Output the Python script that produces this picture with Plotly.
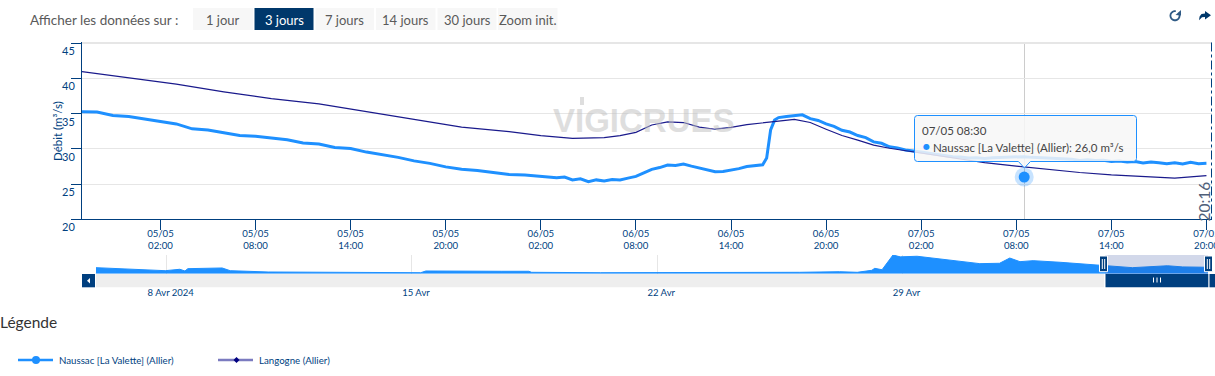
import math
import pandas as pd
import plotly.graph_objects as go

W, H = 1215, 376
FONT = "Lato"
NAVY = "#003f7f"
BLUE = "#1e90ff"
DARK = "#1a1a8c"

# ---- Data ----
naussac_name = "Naussac [La Valette] (Allier)"
langogne_name = "Langogne (Allier)"

naussac_hourly = [35.3, 35.25, 34.75, 34.6, 34.25, 33.9, 33.55, 32.85, 32.7, 32.3,
                  31.9, 31.8, 31.6, 31.3, 30.85, 30.7, 30.2, 30.05, 29.55, 29.2,
                  28.8, 28.3, 27.95, 27.45, 27.1, 26.95, 26.6, 26.35, 26.3, 26.15]
naussac_low = [26.05, 25.9, 26.0, 25.6, 25.75, 25.35, 25.6, 25.45, 25.65, 25.6,
               25.85, 26.1, 26.6, 27.1, 27.35, 27.7, 27.65, 27.85, 27.55, 27.3,
               27.0, 26.75, 26.8, 26.95, 27.2, 27.5, 27.6, 27.75]
naussac_rise_times = ["2024-05-06 16:15", "2024-05-06 16:30", "2024-05-06 16:45", "2024-05-06 17:00"]
naussac_rise = [28.7, 32.7, 34.1, 34.45]
naussac_tail = [34.6, 34.7, 34.85, 34.3, 34.05, 33.55, 33.2, 32.65, 32.4, 31.9,
                31.6, 31.0, 30.8, 30.3, 30.15, 29.85, 29.65, 29.55, 29.4, 29.2,
                29.05, 28.9, 28.85, 28.7, 28.75, 28.65, 28.75, 28.8, 28.85, 28.95,
                28.9, 28.8, 28.75, 28.6, 28.65, 28.5, 28.55, 28.35, 28.45, 28.35,
                28.4, 28.2, 28.3, 28.15, 28.2, 28.0, 28.15, 28.05, 27.9, 28.05,
                27.85, 28.1, 27.9, 27.95]

langogne_times = ["2024-05-04 21:00", "2024-05-05 00:00", "2024-05-05 03:00", "2024-05-05 06:00",
                  "2024-05-05 09:00", "2024-05-05 12:00", "2024-05-05 15:00", "2024-05-05 18:00",
                  "2024-05-05 21:00", "2024-05-06 00:00", "2024-05-06 02:00", "2024-05-06 04:00",
                  "2024-05-06 05:00", "2024-05-06 06:00", "2024-05-06 07:00", "2024-05-06 08:00",
                  "2024-05-06 09:00", "2024-05-06 10:00", "2024-05-06 11:00", "2024-05-06 12:00",
                  "2024-05-06 13:00", "2024-05-06 14:00", "2024-05-06 15:00", "2024-05-06 16:00",
                  "2024-05-06 17:00", "2024-05-06 18:00", "2024-05-06 19:00", "2024-05-06 20:00",
                  "2024-05-06 21:00", "2024-05-06 22:00", "2024-05-06 23:00", "2024-05-07 00:00",
                  "2024-05-07 02:00", "2024-05-07 04:00", "2024-05-07 06:00", "2024-05-07 08:00",
                  "2024-05-07 10:00", "2024-05-07 12:00", "2024-05-07 14:00", "2024-05-07 16:00",
                  "2024-05-07 18:00", "2024-05-07 20:00"]
langogne_values = [41.0, 40.07, 39.2, 38.1, 37.15, 36.4, 35.3, 34.1, 33.1, 32.45, 31.9, 31.5,
                   31.5, 31.6, 31.9, 32.35, 33.4, 33.85, 33.75, 33.1, 32.8, 33.05, 33.45, 33.65,
                   33.95, 34.2, 33.75, 32.8, 31.9, 31.25, 30.55, 30.1, 29.4, 28.65, 28.05, 27.55,
                   27.05, 26.65, 26.3, 26.1, 25.85, 26.2]

hover_time = ["2024-05-07 08:30"]
hover_value = [26.0]

nav_times = ["2024-04-05 23:34", "2024-04-07 23:00", "2024-04-08 09:00", "2024-04-08 12:30",
             "2024-04-08 14:30", "2024-04-09 14:00", "2024-04-09 19:30", "2024-04-10 21:30",
             "2024-04-15 06:00", "2024-04-15 09:30", "2024-04-17 13:30", "2024-04-18 08:00",
             "2024-04-18 10:00", "2024-04-20 09:00", "2024-04-26 01:30", "2024-04-27 05:00",
             "2024-04-27 17:00", "2024-04-28 03:00", "2024-04-28 05:00", "2024-04-28 10:00",
             "2024-04-28 17:30", "2024-04-28 22:30", "2024-04-29 10:00", "2024-04-30 01:30",
             "2024-05-01 05:00", "2024-05-01 18:30", "2024-05-02 01:30", "2024-05-02 08:30",
             "2024-05-02 17:30", "2024-05-03 12:00", "2024-05-04 13:30", "2024-05-05 13:30",
             "2024-05-06 13:30", "2024-05-07 00:00", "2024-05-07 17:17"]
nav_values = [25.8, 12.9, 18.9, 11.6, 21.5, 24.5, 12.9, 7.3, 4.3, 11.6, 10.3, 10.3, 6.0, 4.3,
              6.0, 8.6, 6.0, 14.6, 23.0, 17.0, 80.0, 72.0, 74.6, 63.0, 43.0, 44.6, 67.0, 51.5,
              55.8, 48.9, 37.0, 25.8, 34.0, 29.0, 27.5]

main_tick_times = ["2024-05-05 02:00", "2024-05-05 08:00", "2024-05-05 14:00", "2024-05-05 20:00",
                   "2024-05-06 02:00", "2024-05-06 08:00", "2024-05-06 14:00", "2024-05-06 20:00",
                   "2024-05-07 02:00", "2024-05-07 08:00", "2024-05-07 14:00", "2024-05-07 20:00"]
main_tick_labels = ["05/05<br>02:00", "05/05<br>08:00", "05/05<br>14:00", "05/05<br>20:00",
                    "06/05<br>02:00", "06/05<br>08:00", "06/05<br>14:00", "06/05<br>20:00",
                    "07/05<br>02:00", "07/05<br>08:00", "07/05<br>14:00", "07/05<br>20:00"]
nav_tick_times = ["2024-04-08", "2024-04-15", "2024-04-22", "2024-04-29"]
nav_tick_labels = ["8 Avr 2024", "15 Avr", "22 Avr", "29 Avr"]

button_labels = ["1 jour", "3 jours", "7 jours", "14 jours", "30 jours", "Zoom init."]
button_edges = [(193, 253), (254.5, 313.5), (315.5, 374), (376, 435.5), (437.5, 496.5), (498, 557.5)]
active_button = "3 jours"

naussac_times = (
    list(pd.date_range("2024-05-04 21:00", "2024-05-06 02:00", freq="60min"))
    + list(pd.date_range("2024-05-06 02:30", "2024-05-06 16:00", freq="30min"))
    + [pd.Timestamp(t) for t in naussac_rise_times]
    + list(pd.date_range("2024-05-06 17:30", "2024-05-07 20:00", freq="30min"))
)
naussac_values = naussac_hourly + naussac_low + naussac_rise + naussac_tail


def px(x):
    return x / W


def py(y):
    return 1 - y / H


fig = go.Figure()
fig.add_trace(go.Scatter(x=naussac_times, y=naussac_values, name=naussac_name, mode="lines",
                         line=dict(color=BLUE, width=3), showlegend=False, hoverinfo="skip"))
fig.add_trace(go.Scatter(x=langogne_times, y=langogne_values, name=langogne_name, mode="lines",
                         line=dict(color=DARK, width=1.2), showlegend=False, hoverinfo="skip"))
fig.add_trace(go.Scatter(x=hover_time, y=hover_value, mode="markers",
                         marker=dict(size=19, color="rgba(30,144,255,0.25)"),
                         showlegend=False, hoverinfo="skip"))
fig.add_trace(go.Scatter(x=hover_time, y=hover_value, mode="markers",
                         marker=dict(size=11, color=BLUE),
                         showlegend=False, hoverinfo="skip"))
fig.add_trace(go.Scatter(x=nav_times, y=nav_values, xaxis="x2", yaxis="y2", mode="lines",
                         line=dict(color=BLUE, width=1), fill="tozeroy", fillcolor=BLUE,
                         showlegend=False, hoverinfo="skip"))

shapes = []
annotations = []


def rect(x0, y0, x1, y1, fill, line=None, width=0):
    shapes.append(dict(type="rect", xref="paper", yref="paper", x0=px(x0), x1=px(x1),
                       y0=py(y1), y1=py(y0), fillcolor=fill, layer="above",
                       line=dict(color=line or fill, width=width)))


def hline(x0, y0, x1, y1, color, width=1, dash="solid", layer="above"):
    shapes.append(dict(type="line", xref="paper", yref="paper", x0=px(x0), x1=px(x1),
                       y0=py(y0), y1=py(y1), layer=layer,
                       line=dict(color=color, width=width, dash=dash)))


def poly(points, fill, close=True, line_color=None, line_width=0):
    d = "M " + " L ".join(f"{px(a)} {py(b)}" for a, b in points) + (" Z" if close else "")
    shapes.append(dict(type="path", xref="paper", yref="paper", layer="above", path=d,
                       fillcolor=fill, line=dict(color=line_color or fill, width=line_width)))


def text(x, y, s, size, color, xanchor="left", yanchor="middle", family=FONT, angle=0, bold=False):
    annotations.append(dict(xref="paper", yref="paper", x=px(x), y=py(y), text=s, showarrow=False,
                            xanchor=xanchor, yanchor=yanchor, textangle=angle,
                            borderpad=0, borderwidth=0,
                            font=dict(size=size, color=color, family=family,
                                      weight="bold" if bold else "normal")))


# toolbar
text(30, 19.5, "Afficher les données sur :", 13.5, "#5a5a5a")
for label, (a, b) in zip(button_labels, button_edges):
    on = label == active_button
    rect(a, 8, b, 30, "#00386b" if on else "#f7f7f7")
    text((a + b) / 2, 19.5, label, 13, "#ffffff" if on else "#5a5a5a", xanchor="center")

# refresh icon: open ring with arrow head
ring = [(1175 + 4.6 * math.cos(math.radians(a)), 15.7 + 4.6 * math.sin(math.radians(a)))
        for a in range(-40, 300, 20)]
poly(ring, "rgba(0,0,0,0)", close=False, line_color="#2f5a85", line_width=1.8)
poly([(1181, 10), (1181, 15.5), (1175.5, 15)], "#2f5a85")
# share icon: curved arrow
poly([(1205, 11), (1211, 15.2), (1205, 19.5), (1205, 17), (1202, 17.3), (1199, 20.2),
      (1199.6, 16.5), (1201.5, 14), (1205, 13.4)], "#00386b")

# chart decorations
hline(82, 42.5, 1212, 42.5, "#e6e6e6")
text(644, 120, "VIGICRUES", 33, "rgba(190,190,190,0.5)", xanchor="center",
     family="Liberation Sans", bold=True)
rect(580, 97, 584, 105, "rgba(190,190,190,0.5)")
text(58, 131, "Débit (m³/s)", 11.5, NAVY, xanchor="center", angle=-90)
hline(1024.5, 42.5, 1024.5, 219, "#cccccc", layer="below")
hline(1211.5, 42.5, 1211.5, 219, NAVY, dash="dashdot")
text(1203, 201.5, "20:16", 15.5, "#50607a", xanchor="center", angle=-90)

# tooltip
L, T, R, B, TIP, r = 914.5, 115.5, 1136.5, 161.5, 1024.4, 3
tp = (f"M {px(L + r)} {py(T)} L {px(R - r)} {py(T)} Q {px(R)} {py(T)} {px(R)} {py(T + r)} "
      f"L {px(R)} {py(B - r)} Q {px(R)} {py(B)} {px(R - r)} {py(B)} "
      f"L {px(TIP + 6)} {py(B)} L {px(TIP)} {py(168)} L {px(TIP - 6)} {py(B)} "
      f"L {px(L + r)} {py(B)} Q {px(L)} {py(B)} {px(L)} {py(B - r)} "
      f"L {px(L)} {py(T + r)} Q {px(L)} {py(T)} {px(L + r)} {py(T)} Z")
shapes.append(dict(type="path", xref="paper", yref="paper", path=tp, layer="above",
                   fillcolor="rgba(247,247,247,0.85)", line=dict(color=BLUE, width=1)))
text(922, 131, "07/05 08:30", 11.5, "#444444")
text(922.5, 146.5, "●", 8, BLUE, family="DejaVu Sans")
text(932.5, 147, "Naussac [La Valette] (Allier): 26,0 m³/s", 11.5, "#444444")

# navigator
rect(96, 274, 1104, 287.3, "#eeeeee")
rect(82, 274, 95, 287.3, NAVY)
poly([(87, 280.7), (90, 278), (90, 283.4)], "#ffffff")
rect(1105, 255, 1208, 274, "rgba(30,60,150,0.2)")
rect(1105.5, 274, 1208.3, 287.3, NAVY)
rect(1209.5, 274, 1215, 287.3, NAVY)
for xg in (1153.5, 1157, 1160.5):
    hline(xg, 277.5, xg, 282.5, "#ffffff")
for a, b in ((1099.5, 1107.5), (1204.5, 1212.5)):
    rect(a, 256, b, 271.7, NAVY, line="#ffffff", width=1)
    hline(a + 2.8, 259, a + 2.8, 269, "#ffffff")
    hline(a + 5.2, 259, a + 5.2, 269, "#ffffff")

# legend
text(0, 322, "Légende", 15.5, "#333333")
hline(18, 360, 53, 360, BLUE, width=2.5)
shapes.append(dict(type="circle", xref="paper", yref="paper", layer="above", fillcolor=BLUE,
                   line=dict(width=0), x0=px(32), x1=px(40), y0=py(364), y1=py(356)))
text(58.5, 360, naussac_name, 9.7, NAVY)
hline(218, 360, 253, 360, "#7b7bc0", width=2.5)
poly([(236.5, 357), (239.5, 360), (236.5, 363), (233.5, 360)], "#000080")
text(258.5, 360, langogne_name, 9.7, NAVY)

fig.update_layout(
    width=W, height=H, margin=dict(l=0, r=0, t=0, b=0, autoexpand=False), autosize=False,
    paper_bgcolor="#ffffff", plot_bgcolor="#ffffff", showlegend=False, hovermode=False,
    font=dict(family=FONT, color=NAVY),
    shapes=shapes, annotations=annotations,
    xaxis=dict(
        domain=[px(82), px(1212)], range=["2024-05-04 21:03", "2024-05-07 20:21"], type="date",
        tickmode="array", tickvals=main_tick_times, ticktext=main_tick_labels,
        ticks="outside", ticklen=10, tickcolor=NAVY, tickwidth=1, automargin=False,
        tickfont=dict(size=9.6, color=NAVY, family=FONT), ticklabeloverflow="allow",
        ticklabelstandoff=-5,
        showline=True, linecolor=NAVY, linewidth=1, showgrid=False, zeroline=False,
        anchor="y", fixedrange=True,
    ),
    yaxis=dict(
        domain=[py(219.3), py(42.3)], range=[20, 45.15], tick0=20, dtick=5,
        ticks="outside", ticklen=10, tickcolor=NAVY, tickwidth=1, automargin=False,
        tickfont=dict(size=11, color=NAVY, family=FONT),
        ticklabelshift=8, ticklabelstandoff=-6,
        showline=True, linecolor=NAVY, linewidth=1, showgrid=True, gridcolor="#e6e6e6",
        zeroline=False, anchor="x", fixedrange=True,
    ),
    xaxis2=dict(
        domain=[px(96), px(1208)], range=["2024-04-05 23:34", "2024-05-07 17:17"], type="date",
        tickmode="array", tickvals=nav_tick_times, ticktext=nav_tick_labels,
        ticks="outside", ticklen=10, tickcolor="rgba(0,0,0,0)", ticklabelshift=4, automargin=False,
        tickfont=dict(size=9.5, color=NAVY, family=FONT),
        showline=False, showgrid=True, gridcolor="#e6e6e6", zeroline=False, anchor="y2",
        fixedrange=True,
    ),
    yaxis2=dict(
        domain=[py(273.7), py(255)], range=[0, 80], visible=False, anchor="x2", fixedrange=True,
        automargin=False,
    ),
)

fig.write_html("out.html", config={"displayModeBar": False},
               post_script="document.body.style.margin='0';document.body.style.overflow='hidden';")
